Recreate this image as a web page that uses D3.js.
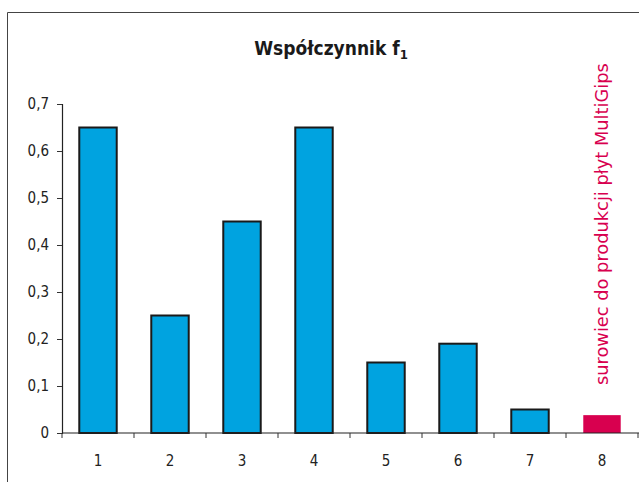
<!DOCTYPE html>
<html>
<head>
<meta charset="utf-8">
<script src="https://cdn.jsdelivr.net/npm/d3@7"></script>
<style>
  html, body { margin: 0; padding: 0; background: #fff; }
  svg { display: block; }
  text { font-family: "DejaVu Sans Condensed", "DejaVu Sans", sans-serif; }
</style>
</head>
<body>
<svg id="chart" width="639" height="482"></svg>
<script>
const categories = ["1", "2", "3", "4", "5", "6", "7", "8"];
const values = [0.65, 0.25, 0.45, 0.65, 0.15, 0.19, 0.05, 0.038];
const highlighted = [false, false, false, false, false, false, false, true];
const yTicks = [0, 0.1, 0.2, 0.3, 0.4, 0.5, 0.6, 0.7];
const titleMain = "Współczynnik f";
const titleSub = "1";
const annotation = "surowiec do produkcji płyt MultiGips";

const svg = d3.select("#chart");
const W = 639, H = 482;
const margin = { left: 62, right: 1, top: 104, bottom: 49 };

// outer frame (top and left edges)
svg.append("path")
  .attr("d", `M7.5,${H} V12.5 H${W}`)
  .attr("fill", "none").attr("stroke", "#444").attr("stroke-width", 1);

const x = d3.scaleBand().domain(categories)
  .range([margin.left, W - margin.right]).paddingInner(0.48).paddingOuter(0.24);
const y = d3.scaleLinear().domain([0, 0.7]).range([H - margin.bottom, margin.top]);

// bars
svg.append("g").selectAll("rect").data(values).join("rect")
  .attr("x", (d, i) => x(categories[i]))
  .attr("width", x.bandwidth())
  .attr("y", d => y(d))
  .attr("height", d => y(0) - y(d))
  .attr("fill", (d, i) => highlighted[i] ? "#D8004F" : "#00A3E0")
  .attr("stroke", (d, i) => highlighted[i] ? "none" : "#1a1a1a")
  .attr("stroke-width", 2);

// y axis
const yAxis = svg.append("g")
  .attr("transform", `translate(${margin.left},0)`)
  .call(d3.axisLeft(y).tickValues(yTicks).tickSize(5).tickPadding(8)
    .tickFormat(d => d === 0 ? "0" : String(d.toFixed(1)).replace(".", ",")));
// x axis
const xAxis = svg.append("g")
  .attr("transform", `translate(0,${y(0)})`)
  .call(d3.axisBottom(x).tickSize(0).tickPadding(22));
// band-edge ticks
xAxis.selectAll(".edge").data(categories.concat(["end"])).join("line")
  .attr("class", "edge")
  .attr("x1", (d, i) => margin.left + i * x.step())
  .attr("x2", (d, i) => margin.left + i * x.step())
  .attr("y1", 0).attr("y2", 5)
  .attr("stroke", "#333");

[yAxis, xAxis].forEach(g => {
  g.select(".domain").attr("stroke", "#222").attr("stroke-width", 1.2);
  g.selectAll(".tick line").attr("stroke", "#333");
  g.selectAll("text").attr("font-size", 15).attr("fill", "#222")
    .style("font-family", '"DejaVu Sans Condensed", "DejaVu Sans", sans-serif');
});
xAxis.select(".domain").attr("d", `M${margin.left},0H${W}`);

// title
const title = svg.append("text")
  .attr("x", 331).attr("y", 55)
  .attr("text-anchor", "middle")
  .attr("font-size", 19).attr("font-weight", "bold").attr("fill", "#1a1a1a");
title.append("tspan").text(titleMain);
title.append("tspan").attr("font-size", 13).attr("dy", 4).text(titleSub);

// rotated annotation, sized to span the same length as in the original
const ann = svg.append("text")
  .attr("transform", `translate(608,385) rotate(-90)`)
  .attr("text-anchor", "start")
  .attr("font-size", 16).attr("fill", "#D8004F")
  .style("font-family", '"DejaVu Sans", sans-serif')
  .text(annotation);
const len = ann.node().getComputedTextLength();
ann.attr("font-size", 16 * 322 / len);
</script>
</body>
</html>
